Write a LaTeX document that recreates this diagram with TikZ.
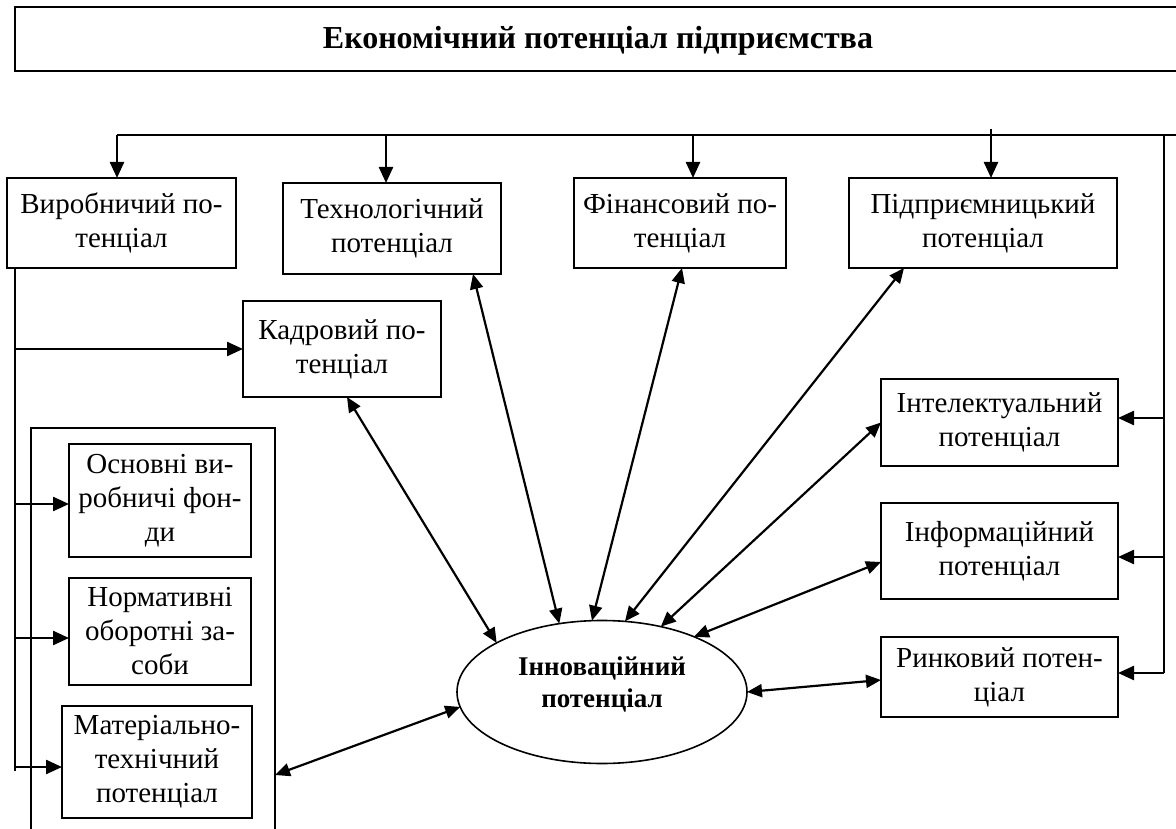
\documentclass[tikz,border=0pt]{standalone}
\usepackage{fontspec}
\setmainfont{Liberation Serif}
\usetikzlibrary{shapes.geometric,arrows.meta}

\begin{document}
\begin{tikzpicture}[x=1pt,y=-1pt,
  every node/.style={inner sep=0pt, outer sep=0pt},
  box/.style={draw, line width=1.6pt, align=center, font=\fontsize{29}{34}\selectfont},
  frame/.style={draw, line width=1.6pt},
  wire/.style={line width=2.2pt},
  arr/.style={line width=2.4pt, -{Triangle[length=16pt,width=14pt]}},
  darr/.style={line width=2.2pt, {Triangle[length=15pt,width=13pt]}-{Triangle[length=15pt,width=13pt]}}]

\useasboundingbox (0,0) rectangle (1176,829);
\clip (0,0) rectangle (1176,829);

% heading
\node[frame, minimum width=1200, minimum height=64, anchor=north west] (titlebox) at (15,7) {};
\node[font=\bfseries\fontsize{32}{38}\selectfont] (title) at (598,41) {Економічний потенціал підприємства};

% top row
\node[box, minimum width=229, minimum height=90] (vyrob) at (121.5,223) {Виробничий по-\\тенціал};
\node[box, minimum width=218, minimum height=91] (tech) at (392,228.5) {Технологічний\\потенціал};
\node[box, minimum width=212, minimum height=90] (fin) at (680,223) {Фінансовий по-\\тенціал};
\node[box, minimum width=268, minimum height=90] (pidpr) at (983,223) {Підприємницький\\потенціал};

\node[box, minimum width=198, minimum height=96] (kadr) at (342,349) {Кадровий по-\\тенціал};

% left group
\node[frame, minimum width=244, minimum height=472, anchor=north west] (group) at (31,428) {};
\node[box, minimum width=182, minimum height=113] (osn) at (160,500.5) {Основні ви-\\робничі фон-\\ди};
\node[box, minimum width=182, minimum height=107] (norm) at (160,631.5) {Нормативні\\оборотні за-\\соби};
\node[box, minimum width=190, minimum height=112] (mat) at (157,762) {Матеріально-\\технічний\\потенціал};

% right column
\node[box, minimum width=237, minimum height=87] (intel) at (999.5,422.5) {Інтелектуальний\\потенціал};
\node[box, minimum width=237, minimum height=96] (inform) at (999.5,551) {Інформаційний\\потенціал};
\node[box, minimum width=237, minimum height=80] (rynk) at (999.5,677) {Ринковий потен-\\ціал};

% centre
\node[draw, ellipse, line width=1.6pt, minimum width=290, minimum height=143] (inno) at (602,692) {};
\node[font=\bfseries\fontsize{27}{32}\selectfont, align=center] (innotext) at (602,684) {Інноваційний\\потенціал};

% bus points
\coordinate (busL) at (117,135);
\coordinate (busR) at (1180,135);
\coordinate (tapT) at (386,135);
\coordinate (tapF) at (693,135);
\coordinate (tapP) at (991,129);
\coordinate (rTop) at (1164,135);
\coordinate (rBot) at (1164,673);
\coordinate (r1) at (1164,418);
\coordinate (r2) at (1164,557);
\coordinate (lTop) at (15,268);
\coordinate (lBot) at (15,771);
\coordinate (l1) at (15,349);
\coordinate (l2) at (15,504);
\coordinate (l3) at (15,638);
\coordinate (l4) at (15,767);

% top distribution
\draw[wire] (busL) -- (busR);
\draw[arr] (busL) -- (busL |- vyrob.north);
\draw[arr] (tapT) -- (tapT |- tech.north);
\draw[arr] (tapF) -- (tapF |- fin.north);
\draw[arr] (tapP) -- (tapP |- pidpr.north);

% right distribution
\draw[wire] (rTop) -- (rBot);
\draw[arr] (r1) -- (r1 -| intel.east);
\draw[arr] (r2) -- (r2 -| inform.east);
\draw[arr] (rBot) -- (rBot -| rynk.east);

% left distribution
\draw[wire] (lTop) -- (lBot);
\draw[arr] (l1) -- (l1 -| kadr.west);
\draw[arr] (l2) -- (l2 -| osn.west);
\draw[arr] (l3) -- (l3 -| norm.west);
\draw[arr] (l4) -- (l4 -| mat.west);

% links to the innovation potential
\draw[darr] ([xshift=5pt]kadr.south) -- (inno.155.7);
\draw[darr] ([xshift=81pt]tech.south) -- (inno.122);
\draw[darr] ([xshift=2pt]fin.south) -- (inno.98);
\draw[darr] ([xshift=-79pt]pidpr.south) -- (inno.72);
\draw[darr] (intel.west) -- (inno.48);
\draw[darr] ([yshift=-11pt]inform.west) -- (inno.31);
\draw[darr] ([yshift=-3pt]rynk.west) -- (inno.0);
\draw[darr] ([yshift=-347pt]group.north east) -- (inno.186);
\end{tikzpicture}
\end{document}
